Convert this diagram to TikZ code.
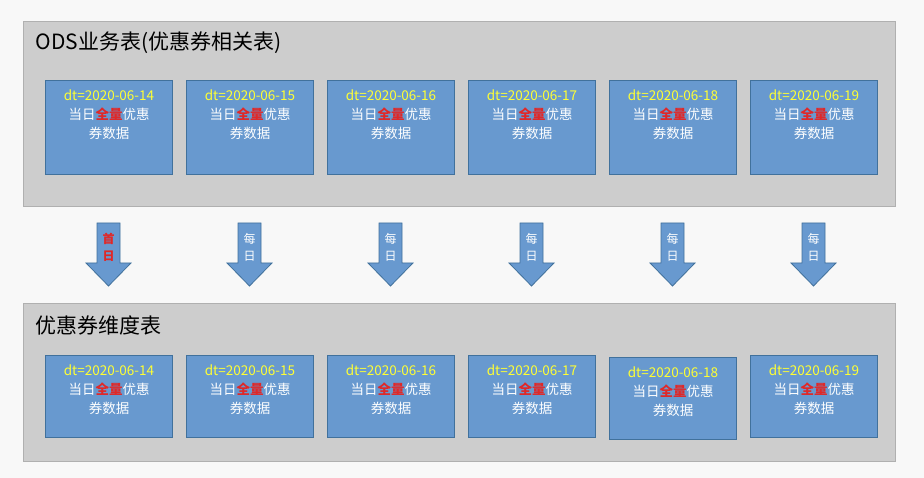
\documentclass[tikz,border=0pt]{standalone}
\usepackage{fontspec}
\setmainfont{Liberation Sans}
\newfontfamily\cjk{Noto Sans CJK SC}
\definecolor{bg}{HTML}{F8F8F8}
\definecolor{panel}{HTML}{CDCDCD}
\definecolor{panelb}{HTML}{B0B0B0}
\definecolor{boxf}{HTML}{6899CF}
\definecolor{boxb}{HTML}{41719C}
\definecolor{yel}{HTML}{FFFF33}
\definecolor{red1}{HTML}{E02828}
\begin{document}
\begin{tikzpicture}[x=1pt,y=-1pt,
  panelbox/.style={draw=panelb,fill=panel,line width=0.8pt},
  databox/.style={draw=boxb,fill=boxf,line width=1pt,minimum width=127pt,minimum height=94pt,anchor=north west,inner sep=0pt},
  arr/.style={draw=boxb,fill=boxf,line width=0.8pt}]
\fill[bg] (0,0) rectangle (924,478);
\useasboundingbox (0,0) rectangle (924,478);
\draw[panelbox] (23,21) rectangle (895,206);
\draw[panelbox] (23,303) rectangle (895,461);
\node[anchor=west,font=\cjk\fontsize{21}{24}\selectfont] (t1) at (32,43) {ODS业务表(优惠券相关表)};
\node[anchor=west,font=\cjk\fontsize{21}{24}\selectfont] (t2) at (32,325) {优惠券维度表};
\newcommand{\boxtext}[1]{\parbox{120pt}{\centering\cjk\fontsize{13.5}{19}\selectfont\vspace*{4pt}\textcolor{yel}{dt=2020-06-#1}\\\textcolor{white}{当日}\textcolor{red1}{\bfseries 全量}\textcolor{white}{优惠}\\\textcolor{white}{券数据}\par\vfill}}
\foreach \d [count=\i from 0] in {14,15,16,17,18,19}{
  \pgfmathsetmacro{\xx}{45+141*\i}
  \node[databox,minimum height=94pt] (a\i) at (\xx,80) {};
  \node[anchor=north,inner sep=0pt] (ta\i) at ([yshift=-6pt]a\i.north) {\boxtext{\d}};
  \pgfmathsetmacro{\yy}{\i==4 ? 357 : 355}
  \node[databox,minimum height=82pt] (b\i) at (\xx,\yy) {};
  \node[anchor=north,inner sep=0pt] (tb\i) at ([yshift=-6pt]b\i.north) {\boxtext{\d}};
  \pgfmathsetmacro{\cx}{108.5+141*\i}
  \draw[arr] (\cx-11.5,223) -- (\cx+11.5,223) -- (\cx+11.5,263) -- (\cx+22.5,263) -- (\cx,286) -- (\cx-22.5,263) -- (\cx-11.5,263) -- cycle;
}
\node[font=\cjk\bfseries\fontsize{12}{17}\selectfont,text=red1,align=center] (m0) at (108.5,247) {首\\日};
\foreach \i in {1,...,5}{
  \pgfmathsetmacro{\cx}{108.5+141*\i}
  \node[font=\cjk\fontsize{12}{17}\selectfont,text=white,align=center] (m\i) at (\cx,247) {每\\日};
}
\end{tikzpicture}
\end{document}
